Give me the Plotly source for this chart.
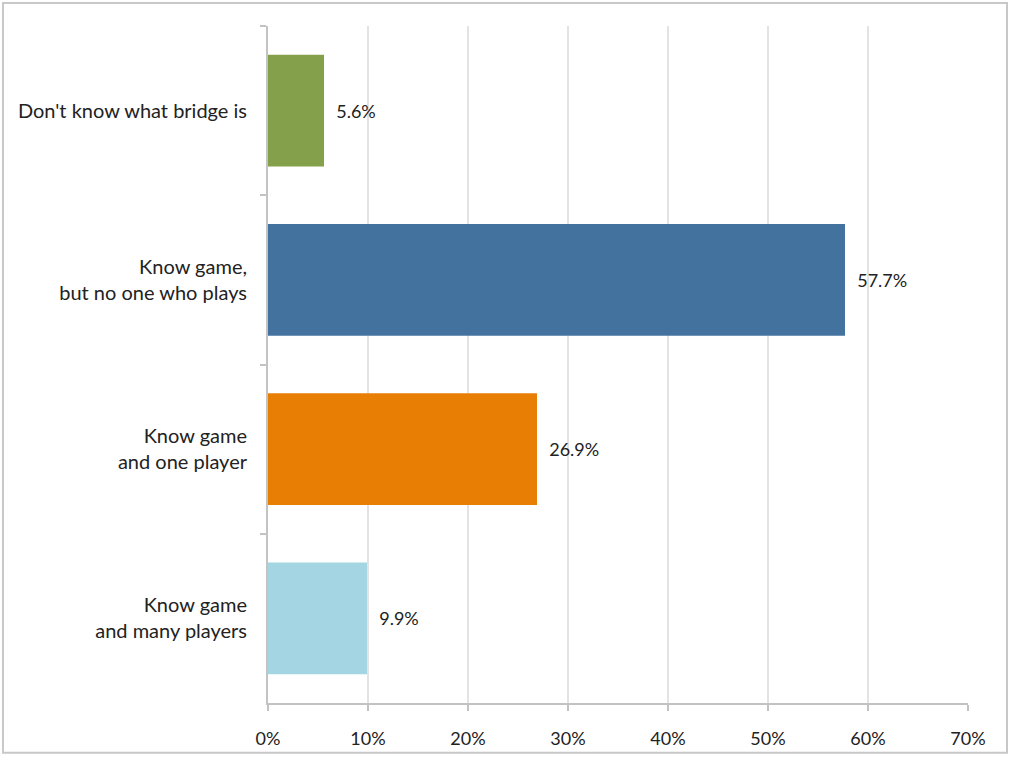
import plotly.graph_objects as go

categories = [
    "Don't know what bridge is",
    "Know game,<br>but no one who plays",
    "Know game<br>and one player",
    "Know game<br>and many players",
]
values = [5.6, 57.7, 26.9, 9.9]
colors = ["#84a04b", "#44729f", "#e87e04", "#a3d6e2"]
x_ticks = [0, 10, 20, 30, 40, 50, 60, 70]
x_tick_labels = [f"{t}%" for t in x_ticks]

fig = go.Figure(
    go.Bar(
        x=values,
        y=categories,
        orientation="h",
        marker=dict(color=colors, line=dict(width=0)),
        text=[f"\u00a0\u00a0{v:.1f}%" for v in values],
        textposition="outside",
        textfont=dict(size=18, color="#222222"),
        cliponaxis=False,
        width=0.66,
        hoverinfo="skip",
    )
)

fig.update_layout(
    width=1010,
    height=761,
    margin=dict(l=268, r=42, t=26, b=54),
    paper_bgcolor="white",
    plot_bgcolor="white",
    font=dict(family="Lato, Open Sans, sans-serif", size=18, color="#222222"),
    showlegend=False,
    shapes=[
        dict(
            type="rect", xref="paper", yref="paper",
            x0=-0.3786, x1=1.0557, y0=-0.0734, y1=1.0338,
            line=dict(color="#c8c8c8", width=2), fillcolor="rgba(0,0,0,0)",
            layer="below",
        )
    ],
)

fig.update_xaxes(
    range=[0, 70],
    tickvals=x_ticks,
    ticktext=x_tick_labels,
    showgrid=True,
    gridcolor="#e3e3e3",
    gridwidth=2,
    zeroline=False,
    showline=True,
    linecolor="#c3c3c3",
    linewidth=2,
    ticks="outside",
    ticklen=6,
    tickwidth=2,
    tickcolor="#c3c3c3",
    ticklabelstandoff=12,
    tickfont=dict(size=18, color="#222222"),
    fixedrange=True,
)

fig.update_yaxes(
    autorange="reversed",
    showgrid=False,
    showline=True,
    linecolor="#c3c3c3",
    linewidth=2,
    ticks="outside",
    tickson="boundaries",
    ticklen=6,
    tickwidth=2,
    tickcolor="#c3c3c3",
    ticklabelstandoff=15,
    tickfont=dict(size=20, color="#222222"),
    fixedrange=True,
)

fig.write_html(
    "out.html",
    config={"displayModeBar": False, "staticPlot": True},
    post_script="document.body.style.margin='0px';document.body.style.padding='0px';",
)
